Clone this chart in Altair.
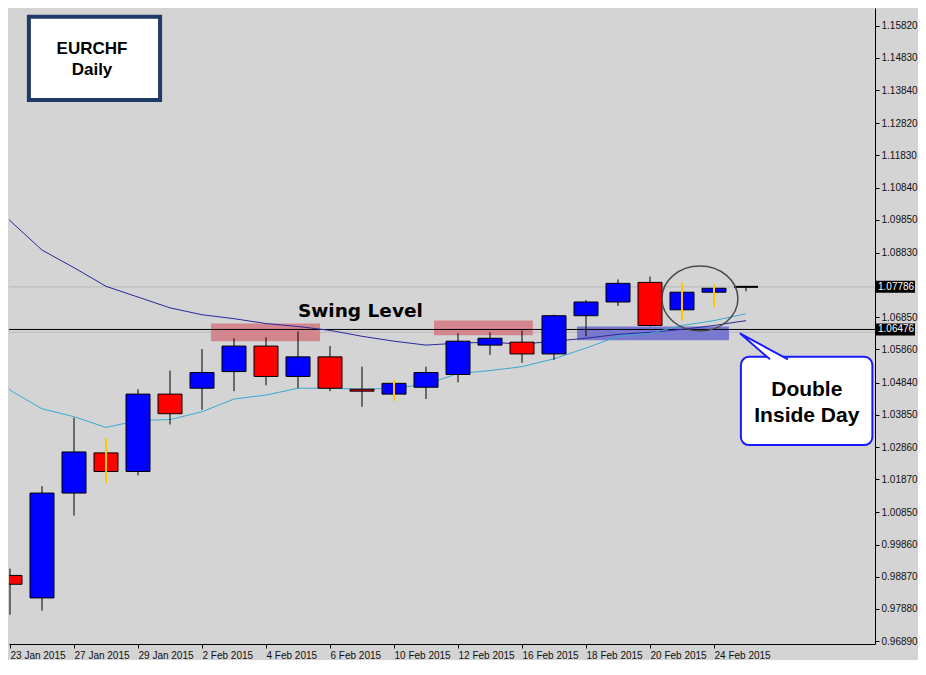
import altair as alt
import pandas as pd

# ---------------- data ----------------
dates = ["23 Jan 2015", "26 Jan 2015", "27 Jan 2015", "28 Jan 2015", "29 Jan 2015", "30 Jan 2015",
         "2 Feb 2015", "3 Feb 2015", "4 Feb 2015", "5 Feb 2015", "6 Feb 2015", "9 Feb 2015",
         "10 Feb 2015", "11 Feb 2015", "12 Feb 2015", "13 Feb 2015", "16 Feb 2015", "17 Feb 2015",
         "18 Feb 2015", "19 Feb 2015", "20 Feb 2015", "23 Feb 2015", "24 Feb 2015", "25 Feb 2015"]
opens = [0.98911, 0.98219, 1.01444, 1.02679, 1.02107, 1.04488, 1.04669, 1.05181, 1.05965, 1.05030,
         1.05633, 1.04638, 1.04488, 1.04699, 1.05091, 1.05995, 1.06085, 1.05723, 1.06899, 1.07321,
         1.07924, 1.07080, 1.07622, 1.07786]
highs = [0.99122, 1.01655, 1.03764, 1.03131, 1.04638, 1.05211, 1.05874, 1.06206, 1.06236, 1.06417,
         1.05965, 1.05332, 1.04940, 1.05332, 1.06356, 1.06387, 1.06447, 1.06929, 1.07381, 1.08014,
         1.08104, 1.07924, 1.07863, 1.07816]
lows = [0.97706, 0.97827, 1.00750, 1.01745, 1.01986, 1.03553, 1.04005, 1.04578, 1.04759, 1.04669,
        1.04578, 1.04096, 1.04277, 1.04337, 1.04849, 1.05693, 1.05452, 1.05543, 1.06266, 1.07200,
        1.06567, 1.06748, 1.07170, 1.07650]
closes = [0.98640, 1.01444, 1.02709, 1.02107, 1.04488, 1.03885, 1.05151, 1.05965, 1.05030, 1.05633,
          1.04669, 1.04578, 1.04819, 1.05151, 1.06115, 1.06206, 1.05723, 1.06899, 1.07321, 1.07894,
          1.06598, 1.07622, 1.07743, 1.07786]
inside_day = [False, False, False, True, False, False, False, False, False, False, False, False,
              True, False, False, False, False, False, False, False, False, True, True, False]

# moving averages, from the bar before the first visible one (index -1) to the last bar
ma_index = list(range(-1, 24))
ma_slow = [1.10877, 1.09822, 1.08918, 1.08376, 1.07803, 1.07472, 1.07140, 1.06929, 1.06808, 1.06658,
           1.06567, 1.06447, 1.06266, 1.06115, 1.05995, 1.06055, 1.06085, 1.06025, 1.06115, 1.06206,
           1.06326, 1.06387, 1.06477, 1.06598, 1.06748]
ma_fast = [1.05995, 1.04608, 1.04036, 1.03794, 1.03463, 1.03674, 1.03704, 1.03945, 1.04337, 1.04458,
           1.04669, 1.04669, 1.04638, 1.04669, 1.04789, 1.05121, 1.05211, 1.05332, 1.05573, 1.05904,
           1.06266, 1.06356, 1.06598, 1.06748, 1.06959]

y_ticks = [1.15820, 1.14830, 1.13840, 1.12820, 1.11830, 1.10840, 1.09850, 1.08830, 1.06850,
           1.05860, 1.04840, 1.03850, 1.02860, 1.01870, 1.00850, 0.99860, 0.98870, 0.97880, 0.96890]

bid_price = 1.07786
level_price = 1.06476
ask_line = 1.06390

# zones (x in bar index units, y in price)
zone_x0 = [6.28, 13.25]
zone_x1 = [9.69, 16.34]
zone_lo = [1.06115, 1.06296]
zone_hi = [1.06658, 1.06748]
demand_x0, demand_x1, demand_lo, demand_hi = 17.72, 22.47, 1.06145, 1.06567

# ---------------- layout ----------------
W, H = 866, 636
xs = alt.Scale(domain=[-1 / 32, (W - 1) / 32], nice=False, zero=False)
ys = alt.Scale(domain=[0.96802, 1.16363], nice=False, zero=False)

labels_js = "[" + ",".join("'%s'" % dates[i] for i in range(0, 24, 2)) + "]"

df = pd.DataFrame({"i": list(range(len(dates))), "date": dates, "open": opens, "high": highs,
                   "low": lows, "close": closes, "inside": inside_day})
df["x0"] = df["i"] - 0.375
df["x1"] = df["i"] + 0.375
df["dir"] = ["up" if c > o else ("down" if c < o else "flat") for o, c in zip(opens, closes)]

ma_df = pd.DataFrame({"i": ma_index, "slow": ma_slow, "fast": ma_fast})

base = alt.Chart(df)

x_axis = alt.Axis(values=list(range(0, 24, 2)), labelExpr=labels_js + "[round(datum.value/2)]",
                  labelAlign="left", labelPadding=2, tickSize=4, labelFontSize=10,
                  labelColor="#111111", domainColor="black", tickColor="black", grid=False,
                  title=None, labelOverlap=False, labelFlush=False, labelFont="Liberation Sans")
y_axis = alt.Axis(orient="right", values=y_ticks, format=".5f", tickSize=4, labelPadding=2,
                  labelFontSize=10, labelColor="#111111", domainColor="black", tickColor="black",
                  grid=False, title=None, labelFont="Liberation Sans", labelOverlap=False)

X = lambda f: alt.X(f, type="quantitative", scale=xs, axis=x_axis)
Y = lambda f: alt.Y(f, type="quantitative", scale=ys, axis=y_axis)

# horizontal lines
lines_df = pd.DataFrame({"p": [bid_price, ask_line], "c": ["a", "b"]})
gray_lines = alt.Chart(lines_df).mark_rule(color="#b9b9b9", strokeWidth=1).encode(y=Y("p"))

# supply zones
zones_df = pd.DataFrame({"x0": zone_x0, "x1": zone_x1, "lo": zone_lo, "hi": zone_hi})
zones = alt.Chart(zones_df).mark_rect(color="#d4868f", opacity=1).encode(
    x=X("x0"), x2="x1", y=Y("lo"), y2="hi")
demand_df = pd.DataFrame({"x0": [demand_x0], "x1": [demand_x1], "lo": [demand_lo], "hi": [demand_hi]})
demand = alt.Chart(demand_df).mark_rect(color="#7878cf", opacity=1).encode(
    x=X("x0"), x2="x1", y=Y("lo"), y2="hi")

level = alt.Chart(pd.DataFrame({"p": [level_price]})).mark_rule(color="black", strokeWidth=1).encode(
    y=Y("p"))

slow_line = alt.Chart(ma_df).mark_line(color="#2a2a9e", strokeWidth=1, clip=True).encode(
    x=X("i"), y=Y("slow"))
fast_line = alt.Chart(ma_df).mark_line(color="#3aaad4", strokeWidth=1, clip=True).encode(
    x=X("i"), y=Y("fast"))

wicks = base.transform_filter("!datum.inside").mark_rule(color="black", strokeWidth=1, clip=True).encode(
    x=X("i"), y=Y("low"), y2="high")
bodies = base.transform_filter("datum.dir != 'flat'").mark_rect(stroke="black", strokeWidth=1, clip=True).encode(
    x=X("x0"), x2="x1", y=Y("open"), y2="close",
    fill=alt.Fill("dir:N", scale=alt.Scale(domain=["up", "down"], range=["#0000ff", "#ff0000"]), legend=None))
doji = base.transform_filter("datum.dir == 'flat'").mark_rule(color="black", strokeWidth=2, clip=True).encode(
    x=X("x0"), x2="x1", y=Y("open"))
yellow = base.transform_filter("datum.inside").mark_rule(color="#ffc800", strokeWidth=2, clip=True).encode(
    x=X("i"), y=Y("low"), y2="high")

# annotations
ell_path = ("M -1 0 C -1 -0.472 -0.552 -0.855 0 -0.855 C 0.552 -0.855 1 -0.472 1 0 "
            "C 1 0.472 0.552 0.855 0 0.855 C -0.552 0.855 -1 0.472 -1 0 Z")
ellipse = alt.Chart(pd.DataFrame({"i": [21.56], "p": [1.07426]})).mark_point(
    shape=ell_path, size=5776, filled=False, stroke="#4a4a4a", strokeWidth=1.5, opacity=1).encode(
    x=X("i"), y=Y("p"))

swing = alt.Chart(pd.DataFrame({"i": [10.95], "p": [1.06869], "t": ["Swing Level"]})).mark_text(
    font="DejaVu Sans", fontWeight="bold", fontSize=18.5, color="black", baseline="alphabetic",
    align="center").encode(x=X("i"), y=Y("p"), text="t:N")

# title box
tbox = alt.Chart(pd.DataFrame({"x0": [0.59], "x1": [4.69], "lo": [1.13530], "hi": [1.16092]})).mark_rect(
    fill="white", stroke="#1f3a66", strokeWidth=4).encode(x=X("x0"), x2="x1", y=Y("lo"), y2="hi")
ttext = alt.Chart(pd.DataFrame({"i": [2.5625, 2.5625], "p": [1.14946, 1.14313],
                                "t": ["EURCHF", "Daily"]})).mark_text(
    font="Liberation Sans", fontWeight="bold", fontSize=17, color="black", baseline="alphabetic",
    align="center").encode(x=X("i"), y=Y("p"), text="t:N")

# callout
cbox = alt.Chart(pd.DataFrame({"x0": [22.84], "x1": [26.95], "lo": [1.02920], "hi": [1.05633]})).mark_rect(
    fill="white", stroke="#1a1aff", strokeWidth=2, cornerRadius=8).encode(
    x=X("x0"), x2="x1", y=Y("lo"), y2="hi")
pointer = alt.Chart(pd.DataFrame({"i": [22.81], "p": [1.06356]})).mark_point(
    shape="M 3.0 2.6 L 0 0 L 4.8 2.6", size=400, filled=True, fill="white", stroke="#1a1aff",
    strokeWidth=2, opacity=1).encode(x=X("i"), y=Y("p"))
ctext = alt.Chart(pd.DataFrame({"i": [24.9, 24.9], "p": [1.04427, 1.03644],
                                "t": ["Double", "Inside Day"]})).mark_text(
    font="Liberation Sans", fontWeight="bold", fontSize=21,
    color="black", baseline="alphabetic", align="center").encode(x=X("i"), y=Y("p"), text="t:N")

# price labels on the axis
plabels_df = pd.DataFrame({"p": [bid_price, level_price], "t": ["%.5f" % bid_price, "%.5f" % level_price]})
pbox = alt.Chart(plabels_df).mark_point(
    shape="M -1 -0.3 L 1 -0.3 L 1 0.3 L -1 0.3 Z", size=1600, filled=True, fill="black",
    stroke="black", strokeWidth=0, opacity=1).encode(x=alt.value(W + 20), y=Y("p"))
ptext = alt.Chart(plabels_df).mark_text(
    font="Liberation Sans", fontSize=10, color="white", align="left", baseline="middle").encode(
    x=alt.value(W + 3), y=Y("p"), text="t:N")

chart = alt.layer(
    gray_lines, zones, demand, level, slow_line, fast_line, wicks, bodies, doji, yellow,
    ellipse, swing, tbox, ttext, cbox, pointer, ctext, pbox, ptext
).properties(
    width=W, height=H, background="#d4d4d4", padding=0
).configure_view(stroke=None)

chart.save("out.html", embed_options={"renderer": "svg", "actions": False})
